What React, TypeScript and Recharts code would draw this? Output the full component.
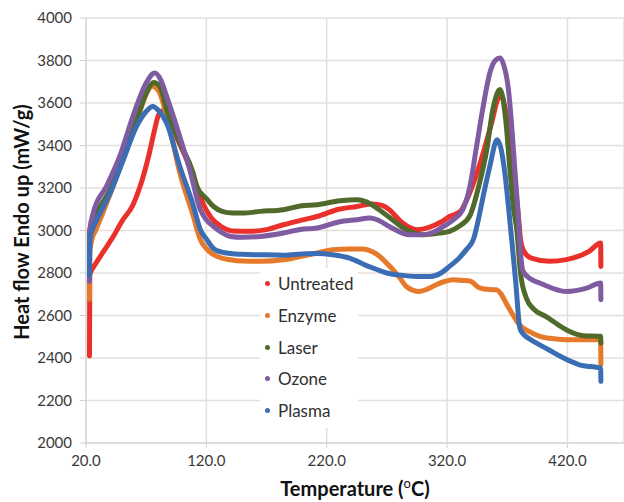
import React from 'react';
import { LineChart, Line, XAxis, YAxis, CartesianGrid, Legend } from 'recharts';

const tempTicks = [20, 120, 220, 320, 420];
const heatTicks = [2000, 2200, 2400, 2600, 2800, 3000, 3200, 3400, 3600, 3800, 4000];

// Untreated
const untreatedT = [22.9, 23.1, 24, 27, 35, 43, 50, 59, 65, 72, 77, 80, 84, 88, 93, 100, 106, 112, 117, 124, 132, 142, 156, 170, 184, 200, 212, 230, 245, 258, 266, 272, 283, 295, 305, 315, 322, 331, 336, 342, 350, 357, 362, 365, 368, 372, 376, 379, 381, 384, 390, 405, 419, 438, 447.6, 447.8];
const untreatedV = [2410, 2790, 2805, 2835, 2905, 2975, 3045, 3120, 3208, 3349, 3474, 3540, 3565, 3560, 3470, 3380, 3302, 3210, 3129, 3060, 3020, 2998, 2996, 3004, 3027, 3050, 3066, 3100, 3113, 3125, 3118, 3098, 3035, 3004, 3015, 3040, 3066, 3090, 3140, 3224, 3365, 3506, 3616, 3635, 3584, 3427, 3239, 3082, 2960, 2900, 2870, 2855, 2863, 2902, 2941, 2831];

// Enzyme
const enzymeT = [22.9, 23.1, 25, 28, 40, 51, 62, 70, 74.5, 80, 87, 98, 109, 115, 120, 126, 133, 140, 150, 165, 184, 200, 212, 225, 239, 250, 258, 264, 270, 275, 281, 286, 292, 297, 304, 311, 318, 325, 333, 339, 347, 355, 361, 365, 369, 375, 380, 388, 397, 410, 419, 435, 447.6, 447.8];
const enzymeV = [2675, 2900, 2960, 3000, 3170, 3340, 3510, 3640, 3680, 3660, 3540, 3270, 3070, 2957, 2915, 2886, 2870, 2862, 2856, 2855, 2862, 2880, 2894, 2910, 2913, 2913, 2900, 2878, 2845, 2816, 2775, 2737, 2718, 2713, 2725, 2745, 2760, 2768, 2765, 2762, 2730, 2722, 2721, 2700, 2659, 2600, 2557, 2525, 2502, 2490, 2486, 2486, 2486, 2370];

// Laser
const laserT = [22.9, 23.1, 26, 29, 40, 51, 62, 70, 76.5, 82, 87, 98, 109, 112, 120, 126, 133, 142, 150, 165, 184, 198, 212, 231, 245, 253, 263, 272, 286, 300, 314, 322, 330, 339, 347, 353, 358, 364, 369, 372, 375, 378, 381, 386, 392, 402, 419, 433, 447.6, 447.8];
const laserV = [2850, 3000, 3040, 3082, 3192, 3349, 3521, 3647, 3697, 3670, 3568, 3412, 3271, 3208, 3150, 3113, 3090, 3082, 3082, 3090, 3098, 3115, 3121, 3140, 3145, 3135, 3100, 3062, 3004, 2980, 2988, 2996, 3020, 3070, 3224, 3380, 3568, 3663, 3506, 3302, 3113, 3000, 2800, 2680, 2630, 2596, 2533, 2505, 2502, 2470];

// Ozone
const ozoneT = [22.9, 23.1, 26, 37, 48, 59, 70, 77, 82, 87, 98, 106, 115, 120, 126, 133, 140, 150, 165, 184, 198, 212, 230, 245, 256, 264, 272, 289, 300, 310, 317, 325, 333, 339, 344.5, 350, 355.5, 360, 364, 367, 371, 373.5, 376.5, 379, 381, 383, 390, 397, 419, 436, 447.6, 447.8];
const ozoneV = [2760, 3000, 3082, 3208, 3349, 3537, 3694, 3741, 3710, 3631, 3440, 3290, 3098, 3050, 3019, 2990, 2972, 2968, 2972, 2988, 3005, 3012, 3040, 3051, 3059, 3045, 3019, 2980, 2980, 2995, 3019, 3050, 3098, 3208, 3396, 3584, 3741, 3800, 3812, 3780, 3663, 3506, 3271, 3082, 2900, 2810, 2770, 2753, 2713, 2729, 2753, 2674];

// Plasma
const plasmaT = [22.9, 23.1, 25, 29, 40, 51, 62, 70, 75.4, 81, 87, 98, 109, 115, 120, 126, 133, 140, 150, 165, 184, 200, 212, 225, 239, 253, 260, 270, 281, 295, 306, 315, 322, 330, 336, 342, 346, 350, 355.5, 361.6, 365, 368, 371, 374, 377, 380.5, 383, 387, 394, 404, 414, 430, 447.6, 447.8];
const plasmaV = [2790, 2960, 3000, 3051, 3176, 3333, 3490, 3560, 3584, 3560, 3506, 3300, 3120, 3004, 2960, 2915, 2898, 2892, 2888, 2886, 2884, 2890, 2892, 2886, 2870, 2835, 2820, 2800, 2790, 2784, 2784, 2800, 2831, 2870, 2910, 2960, 3051, 3161, 3302, 3427, 3380, 3271, 3113, 2940, 2760, 2540, 2515, 2495, 2471, 2440, 2408, 2368, 2353, 2290];

const toPoints = (t: number[], v: number[]) => t.map((x, i) => ({ t: x, v: v[i] }));

const series = [
  { name: 'Untreated', color: '#e9302b', data: toPoints(untreatedT, untreatedV) },
  { name: 'Enzyme', color: '#e7792b', data: toPoints(enzymeT, enzymeV) },
  { name: 'Laser', color: '#4f6a2b', data: toPoints(laserT, laserV) },
  { name: 'Ozone', color: '#7f5ba2', data: toPoints(ozoneT, ozoneV) },
  { name: 'Plasma', color: '#3b6db5', data: toPoints(plasmaT, plasmaV) },
];

const FONT = 'Lato, "Open Sans", sans-serif';

const renderLegend = () => (
  <div style={{ fontFamily: FONT, fontSize: 17, color: '#303030' }}>
    {series.map((s) => (
      <div key={s.name} style={{ display: 'flex', alignItems: 'center', height: 31.7, paddingLeft: 5 }}>
        <span style={{ width: 5, height: 5, borderRadius: '50%', background: s.color, marginRight: 8, display: 'inline-block' }} />
        {s.name}
      </div>
    ))}
  </div>
);

const YTitle = () => (
  <text
    x={21}
    y={222}
    transform="rotate(-90, 21, 222)"
    textAnchor="middle"
    dominantBaseline="central"
    fontFamily={FONT}
    fontWeight="bold"
    fontSize={20}
    fill="#111"
  >
    Heat flow Endo up (mW/g)
  </text>
);

const XTitle = () => (
  <text x={355} y={496} textAnchor="middle" fontFamily={FONT} fontWeight="bold" fontSize={20} fill="#111">
    Temperature (
    <tspan dy={-8} fontSize={13} fontWeight="normal">o</tspan>
    <tspan dy={8}>C)</tspan>
  </text>
);

export default function App() {
  return (
    <div style={{ position: 'absolute', left: 0, top: 0, background: '#fff' }}>
      <LineChart width={624} height={502} margin={{ top: 18, right: 0, left: 0, bottom: 0 }}>
        <CartesianGrid stroke="#e4dfdc" strokeWidth={1.5} />
        <XAxis
          dataKey="t"
          type="number"
          domain={[20, 467]}
          ticks={tempTicks}
          tickFormatter={(v: number) => v.toFixed(1)}
          height={59}
          tickSize={5}
          tickMargin={7}
          stroke="#d6d0cc"
          tick={{ fill: '#3a3a3a', fontSize: 15, fontFamily: FONT }}
          label={{ content: XTitle }}
          allowDuplicatedCategory={false}
        />
        <YAxis
          type="number"
          domain={[2000, 4000]}
          ticks={heatTicks}
          width={86}
          tickSize={6}
          tickMargin={8}
          stroke="#d6d0cc"
          tick={{ fill: '#3a3a3a', fontSize: 15, fontFamily: FONT }}
          label={{ content: YTitle }}
        />
        <Legend
          layout="vertical"
          align="center"
          verticalAlign="middle"
          content={renderLegend}
          wrapperStyle={{ left: 260, top: 268, width: 98, height: 160, background: '#fff' }}
        />
        {series.map((s) => (
          <Line
            key={s.name}
            data={s.data}
            dataKey="v"
            name={s.name}
            type="monotone"
            stroke={s.color}
            strokeWidth={5}
            strokeLinecap="round"
            dot={false}
            isAnimationActive={false}
          />
        ))}
      </LineChart>
    </div>
  );
}
